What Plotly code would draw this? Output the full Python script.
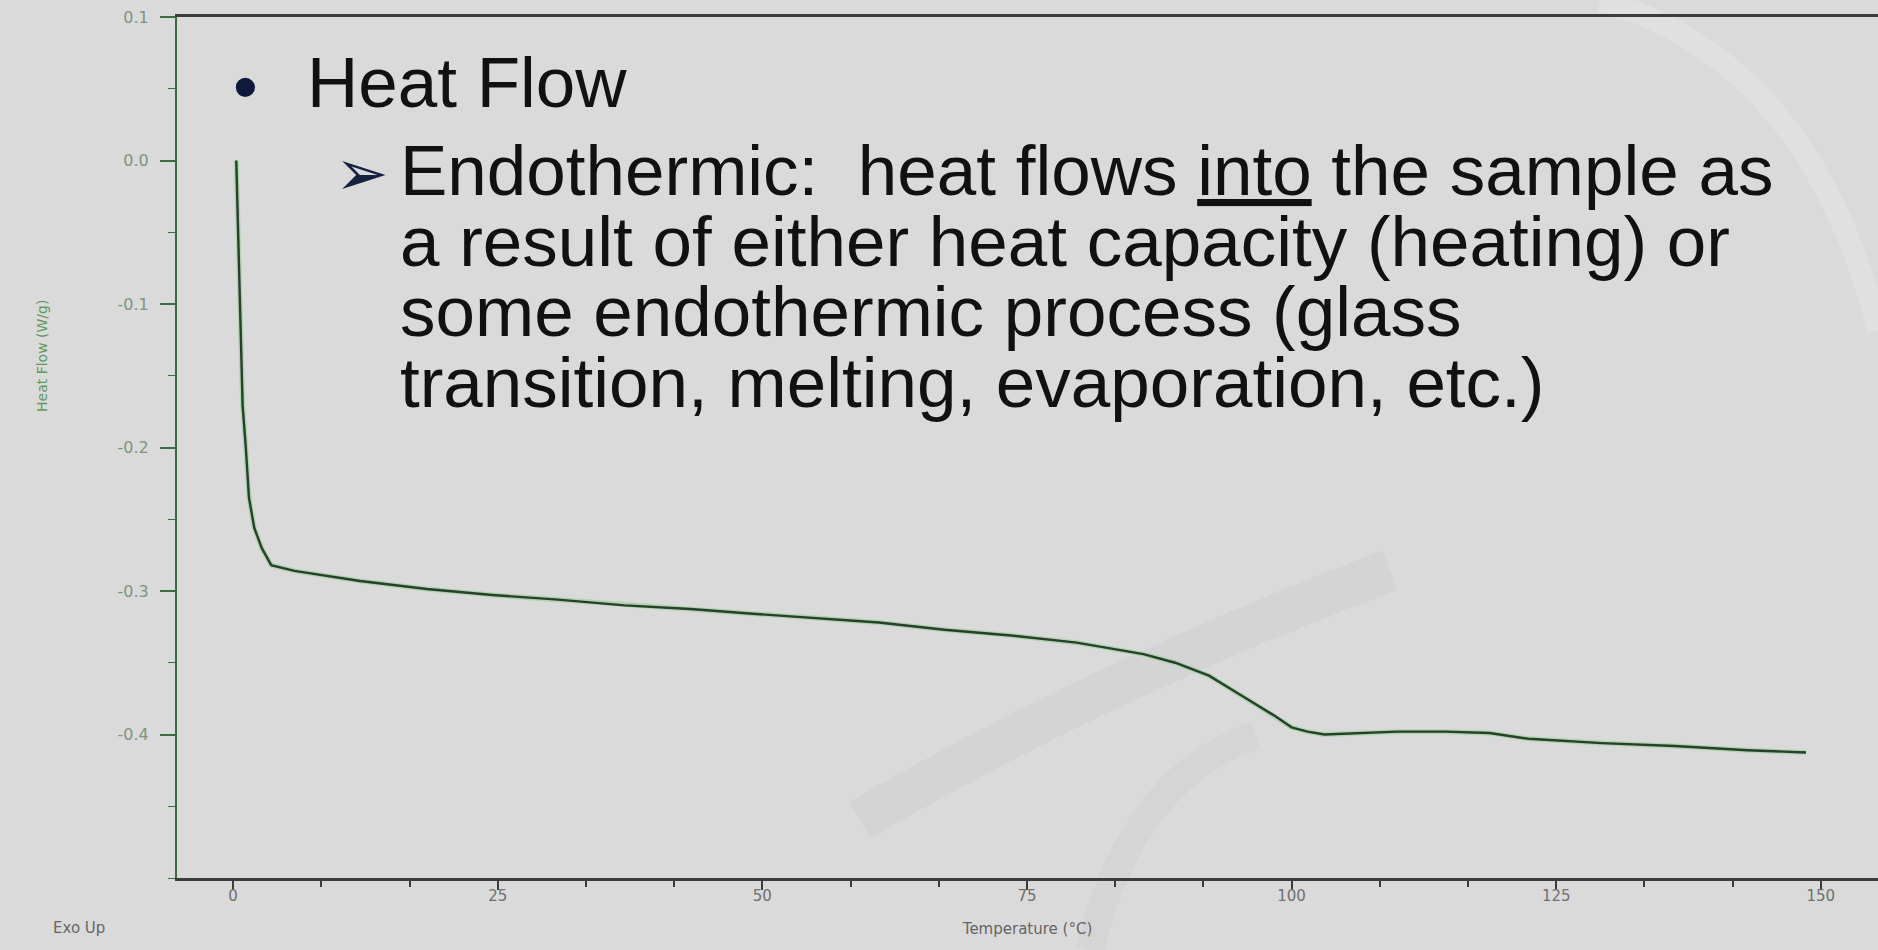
import plotly.graph_objects as go

# DSC trace: temperature (°C) and heat flow (W/g)
temperature = [0.3, 0.4, 0.6, 0.9, 1.2, 1.5, 2.0, 2.7, 3.6, 5.8, 12.0, 18.3, 24.5, 30.7,
               37.0, 43.2, 49.4, 54.8, 61.0, 67.2, 73.5, 79.7, 84.4, 86.0, 89.0, 92.2,
               95.3, 98.4, 100.0, 101.5, 103.1, 106.9, 110.0, 114.5, 118.7, 122.4,
               129.3, 136.2, 143.1, 148.6]
heat_flow = [0.0, -0.03, -0.097, -0.171, -0.200, -0.235, -0.256, -0.270, -0.282, -0.286,
             -0.293, -0.2986, -0.3028, -0.306, -0.310, -0.3125, -0.316, -0.319, -0.322,
             -0.327, -0.331, -0.336, -0.342, -0.344, -0.350, -0.359, -0.373, -0.387,
             -0.395, -0.398, -0.400, -0.399, -0.398, -0.398, -0.399, -0.403, -0.406,
             -0.408, -0.411, -0.4125]

y_ticks = [0.1, 0.0, -0.1, -0.2, -0.3, -0.4]
y_labels = ["0.1", "0.0", "-0.1", "-0.2", "-0.3", "-0.4"]
x_ticks = [0, 25, 50, 75, 100, 125, 150]

bullet_title = "Heat Flow"
sub_lines = [
    "Endothermic:\u00a0 heat flows <u>into</u> the sample as",
    "a result of either heat capacity (heating) or",
    "some endothermic process (glass",
    "transition, melting, evaporation, etc.)",
]

BG = "#dadada"
W, H = 1878, 950
L, R, T, B = 177, 0, 17, 72


def px(x):
    return (x - L) / (W - L - R)


def py(y):
    return (H - B - y) / (H - T - B)


fig = go.Figure()
# soft halo under the trace
fig.add_trace(go.Scatter(x=temperature, y=heat_flow, mode="lines",
                         line=dict(color="rgba(140,205,140,0.55)", width=5),
                         hoverinfo="skip", showlegend=False))
fig.add_trace(go.Scatter(x=temperature, y=heat_flow, mode="lines",
                         line=dict(color="#283f2b", width=2.4), showlegend=False))

TXT = "Liberation Sans, Arial, sans-serif"
FS = 71
LINE_GAP = 70.5  # slide paragraph is set tighter than plotly's 1.3em, so the base size sets the gap
paragraph = "<br>".join(f'<span style="font-size:{FS}px">{s}</span>' for s in sub_lines)

annotations = []
annotations.append(dict(text="\u2022", x=px(245), y=py(86), xanchor="center", yanchor="middle",
                        font=dict(family=TXT, size=FS, color="#0d1a3c")))
annotations.append(dict(text=bullet_title, x=px(306), y=py(107 - 0.35 * FS), xanchor="left",
                        yanchor="middle", font=dict(family=TXT, size=FS, color="#111111")))
annotations.append(dict(text="\u27a2", x=px(362), y=py(173), xanchor="center", yanchor="middle",
                        font=dict(family="DejaVu Sans", size=64, color="#14213f")))
annotations.append(dict(text=paragraph, x=px(399), y=py(194 - 0.905 * FS), xanchor="left",
                        yanchor="top", align="left",
                        font=dict(family=TXT, size=LINE_GAP / 1.3, color="#111111")))
annotations.append(dict(text="Heat Flow (W/g)", textangle=-90, x=px(42), y=py(356),
                        xanchor="center", yanchor="middle",
                        font=dict(family="DejaVu Sans", size=14, color="#5e9a5e")))
annotations.append(dict(text="Exo Up", x=px(52), y=py(928), xanchor="left", yanchor="middle",
                        font=dict(family="DejaVu Sans", size=15, color="#666666")))
for a in annotations:
    a.update(xref="paper", yref="paper", showarrow=False, borderpad=0)

# faint watermark swooshes of the slide background
shapes = [
    dict(type="path", xref="paper", yref="paper", layer="below",
         path=f"M {px(1600)},{py(0)} Q {px(1810)},{py(60)} {px(1878)},{py(330)}",
         line=dict(color="#e0e0e0", width=22)),
    dict(type="path", xref="paper", yref="paper", layer="below",
         path=f"M {px(860)},{py(820)} Q {px(1100)},{py(680)} {px(1390)},{py(570)}",
         line=dict(color="#d4d4d4", width=42)),
    dict(type="path", xref="paper", yref="paper", layer="below",
         path=f"M {px(1090)},{py(950)} Q {px(1130)},{py(780)} {px(1255)},{py(735)}",
         line=dict(color="#d5d5d5", width=28)),
]

fig.update_layout(
    width=W, height=H,
    paper_bgcolor=BG, plot_bgcolor=BG,
    margin=dict(l=L, r=R, t=T, b=B),
    annotations=annotations,
    shapes=shapes,
    xaxis=dict(
        range=[-5.3, 155.4], showgrid=False, zeroline=False,
        showline=True, linecolor="#3c3c3c", linewidth=2.5, mirror=True,
        tickmode="array", tickvals=x_ticks, ticks="outside", ticklen=9,
        tickcolor="#3c3c3c", tickwidth=2,
        minor=dict(dtick=25 / 3, tick0=0, ticks="outside", ticklen=6,
                   tickcolor="#3c3c3c", tickwidth=1.5),
        tickfont=dict(family="DejaVu Sans", size=15, color="#707070"),
        ticklabelstandoff=-7,
        title=dict(text="Temperature (°C)", standoff=20,
                   font=dict(family="DejaVu Sans", size=15, color="#666666")),
    ),
    yaxis=dict(
        range=[-0.5, 0.1], showgrid=False, zeroline=False,
        showline=True, linecolor="#3d6b3d", linewidth=2,
        tickmode="array", tickvals=y_ticks, ticktext=y_labels,
        ticks="outside", ticklen=15, tickcolor="#3d6b3d", tickwidth=1.5,
        minor=dict(dtick=0.05, tick0=0, ticks="outside", ticklen=7,
                   tickcolor="#3d6b3d", tickwidth=1),
        tickfont=dict(family="DejaVu Sans", size=16, color="#7d947d"),
        ticklabelstandoff=8,
    ),
)

fig.write_html("out.html", config={"displayModeBar": False},
               post_script="document.body.style.margin='0';")
